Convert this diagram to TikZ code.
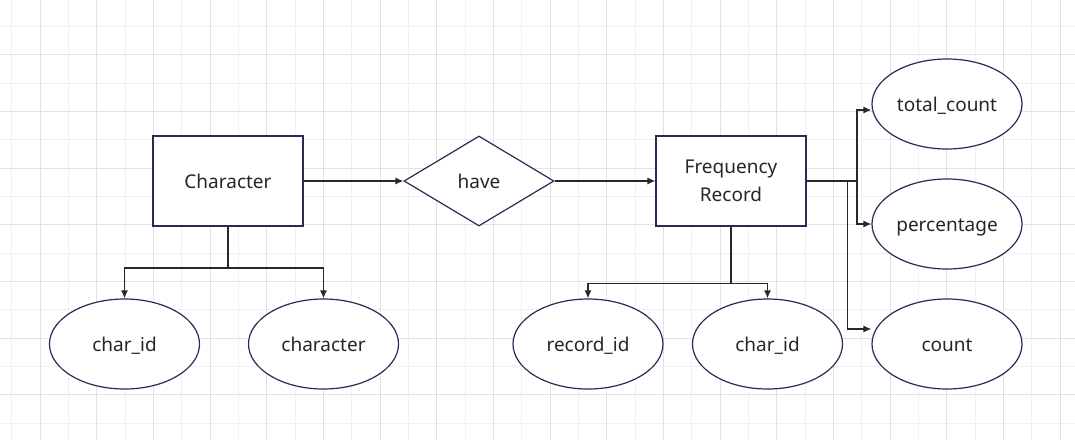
\documentclass[tikz,border=0pt]{standalone}
\usepackage{fontspec}
\setmainfont{Noto Sans}
\usetikzlibrary{shapes.geometric,arrows.meta}
\definecolor{shapeline}{RGB}{38,44,86}
\definecolor{linkline}{RGB}{40,40,40}
\definecolor{gridminor}{RGB}{241,241,241}
\definecolor{gridmajor}{RGB}{226,226,226}
\tikzset{
  onerow/.style={text height=18pt,text depth=2.6pt},
  entity/.style={rectangle,draw=shapeline,line width=1.2pt,fill=white,
    minimum width=150pt,minimum height=90pt,inner sep=0pt,align=center,
    font=\fontsize{19}{27.5}\selectfont,text=black!85},
  relation/.style={diamond,draw=shapeline,line width=1.2pt,fill=white,
    minimum width=150pt,minimum height=90pt,inner sep=0pt,onerow,
    font=\fontsize{19}{27.5}\selectfont,text=black!85},
  attrib/.style={ellipse,draw=shapeline,line width=1.2pt,fill=white,
    minimum width=150pt,minimum height=90pt,inner sep=0pt,onerow,
    font=\fontsize{19}{27.5}\selectfont,text=black!85},
  link/.style={draw=linkline,line width=1.3pt,-{Latex[length=8pt,width=7pt]}},
}
\begin{document}
\begin{tikzpicture}[x=1pt,y=-1pt]
  \useasboundingbox (0,0) rectangle (1075,440);
  \fill[white] (0,0) rectangle (1075,440);
  % grid
  \foreach \k in {0,...,37}
    \draw[gridminor,line width=0.8pt] (11.7+28.33*\k,0) -- ++(0,440);
  \foreach \k in {0,...,15}
    \draw[gridminor,line width=0.8pt] (0,26.5+28.33*\k) -- ++(1075,0);
  \foreach \k in {0,...,18}
    \draw[gridmajor,line width=0.8pt] (40+56.67*\k,0) -- ++(0,440);
  \foreach \k in {0,...,7}
    \draw[gridmajor,line width=0.8pt] (0,54.8+56.67*\k) -- ++(1075,0);
  %
  \def\yent{181}
  \def\yattr{344}
  \node[entity,onerow] (char) at (228,\yent) {Character};
  \node[relation] (have) at (479,\yent) {have};
  \node[entity] (freq) at (731,\yent) {Frequency\\Record};
  %
  \node[attrib] (cid) at (124.5,\yattr) {char\_id};
  \node[attrib] (chr) at (323.5,\yattr) {character};
  \node[attrib] (rid) at (588,\yattr) {record\_id};
  \node[attrib] (fcid) at (767.5,\yattr) {char\_id};
  \node[attrib] (tot) at (947,104) {total\_count};
  \node[attrib] (pct) at (947,224) {percentage};
  \node[attrib] (cnt) at (947,\yattr) {count};
  %
  \draw[link] (char) -- (have);
  \draw[link] (have) -- (freq);
  %
  \coordinate (cfork) at (228,268);
  \draw[link] (char.south) -- (cfork) -| (cid.north);
  \draw[link] (cfork) -| (chr.north);
  %
  \coordinate (ffork) at (731,283.5);
  \draw[link] (freq.south) -- (ffork) -| (rid.north);
  \draw[link] (ffork) -| (fcid.north);
  %
  \coordinate (rfork) at (857,\yent);
  \draw[link] (freq.east) -- (rfork) |- (tot.west |- 0,110);
  \draw[link] (rfork) |- (pct.west);
  \draw[link] (847.5,\yent) |- (cnt.west |- 0,329);
\end{tikzpicture}
\end{document}
